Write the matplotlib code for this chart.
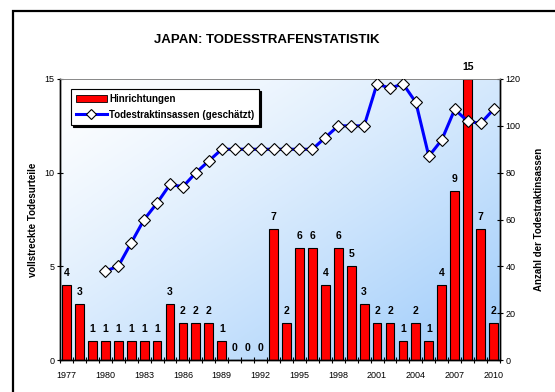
import numpy as np
import matplotlib
matplotlib.use("Agg")
import matplotlib.pyplot as plt
from matplotlib.patches import Rectangle
from matplotlib.lines import Line2D

plt.rcParams['font.family'] = ['Liberation Sans', 'DejaVu Sans']

years = list(range(1977, 2011))
executions = [4, 3, 1, 1, 1, 1, 1, 1, 3, 2, 2, 2, 1, 0, 0, 0, 7, 2, 6, 6,
              4, 6, 5, 3, 2, 2, 1, 2, 1, 4, 9, 15, 7, 2]
death_row_years = list(range(1980, 2011))
death_row = [38, 40, 50, 60, 67, 75, 74, 80, 85, 90, 90, 90, 90, 90, 90, 90,
             90, 95, 100, 100, 100, 118, 116, 118, 110, 87, 94, 107, 102, 101, 107]
tick_years = list(range(1977, 2011, 3))

title = "JAPAN: TODESSTRAFENSTATISTIK"
left_label = "vollstreckte Todesurteile"
right_label = "Anzahl der Todestraktinsassen"
bar_name = "Hinrichtungen"
line_name = "Todestraktinsassen (geschätzt)"

W, H = 555, 392
fig = plt.figure(figsize=(W / 100, H / 100), dpi=100)
fig.patch.set_facecolor('white')

# outer chart frame
fig.patches.append(Rectangle((13 / W, -0.1), 1.2, 1.1 - 11 / H, transform=fig.transFigure,
                             fill=False, edgecolor='black', linewidth=1.6, zorder=0))

x0, x1, y_top, y_bot = 60, 500, 79, 360
ax = fig.add_axes([x0 / W, 1 - y_bot / H, (x1 - x0) / W, (y_bot - y_top) / H])
ax2 = ax.twinx()

xi = np.arange(len(years))
ax.set_xlim(-0.5, len(years) - 0.5)
ax.set_ylim(0, 15)
ax2.set_ylim(0, 120)

# diagonal gradient background: white top-left to light blue bottom-right
n = 200
gx, gy = np.meshgrid(np.linspace(0, 1, n), np.linspace(0, 1, n))
t = np.clip((gx * 0.5 + gy * 0.5), 0, 1) ** 1.25
c0 = np.array([1.0, 1.0, 1.0])
c1 = np.array([155, 202, 250]) / 255
img = c0[None, None, :] * (1 - t[..., None]) + c1[None, None, :] * t[..., None]
ax.imshow(img, extent=(-0.5, len(years) - 0.5, 0, 15), aspect='auto', origin='upper', zorder=0)

ax.bar(xi, executions, width=0.68, color='#ff0000', edgecolor='black', linewidth=0.8, zorder=2)
for xv, v in zip(xi, executions):
    ax.annotate(str(v), (xv, v), xytext=(0, 5), textcoords='offset points',
                ha='center', va='bottom', fontsize=7.5, fontweight='bold', annotation_clip=False)

line_x = [years.index(y) for y in death_row_years]
ax2.plot(line_x, death_row, color='#0000ff', linewidth=2.2, marker='D', markersize=6,
         markerfacecolor='white', markeredgecolor='black', markeredgewidth=0.8, zorder=3)

# axes styling
for a in (ax, ax2):
    a.spines['top'].set_color('#888888')
    a.spines['top'].set_linewidth(0.6)
    a.spines['left'].set_linewidth(1.0)
    a.spines['right'].set_linewidth(1.0)
    a.spines['bottom'].set_linewidth(1.0)

ax.set_xticks([years.index(y) for y in tick_years])
ax.set_xticklabels([str(y) for y in tick_years], fontsize=6.5)
ax.set_xticks(np.arange(-0.5, len(years)), minor=True)
ax.tick_params(axis='x', which='major', length=0, pad=8)
ax.tick_params(axis='x', which='minor', length=5, direction='inout', width=0.8)
ax.set_yticks([0, 5, 10, 15])
ax.tick_params(axis='y', labelsize=6.5, length=4, width=0.8, direction='inout', pad=2)
ax2.set_yticks([0, 20, 40, 60, 80, 100, 120])
ax2.tick_params(axis='y', labelsize=6.5, length=4, width=0.8, direction='inout', pad=2)

ax.set_ylabel(left_label, fontsize=7, fontweight='bold', labelpad=5)
ax2.set_ylabel(right_label, fontsize=7, fontweight='bold', labelpad=10)

fig.text(267 / W, 1 - 40 / H, title, ha='center', va='center', fontsize=9.5, fontweight='bold')

handles = [Rectangle((0, 0), 1, 1, facecolor='#ff0000', edgecolor='black', linewidth=0.6),
           Line2D([], [], color='#0000ff', linewidth=2.2, marker='D', markersize=5,
                  markerfacecolor='white', markeredgecolor='black', markeredgewidth=0.8)]
leg = ax2.legend(handles, [bar_name, line_name], loc='upper left',
                 bbox_to_anchor=(71 / W, 1 - 89 / H), bbox_transform=fig.transFigure,
                 prop={'size': 7, 'weight': 'bold'}, frameon=True, fancybox=False,
                 shadow={'color': 'black', 'alpha': 1, 'ox': 1.5, 'oy': -1.5},
                 edgecolor='black', framealpha=1,
                 borderpad=0.5, handlelength=3.2, handletextpad=0.2, labelspacing=0.6,
                 borderaxespad=0)
leg.get_frame().set_linewidth(0.8)
leg.set_zorder(10)

fig.savefig('out.png', dpi=100)
